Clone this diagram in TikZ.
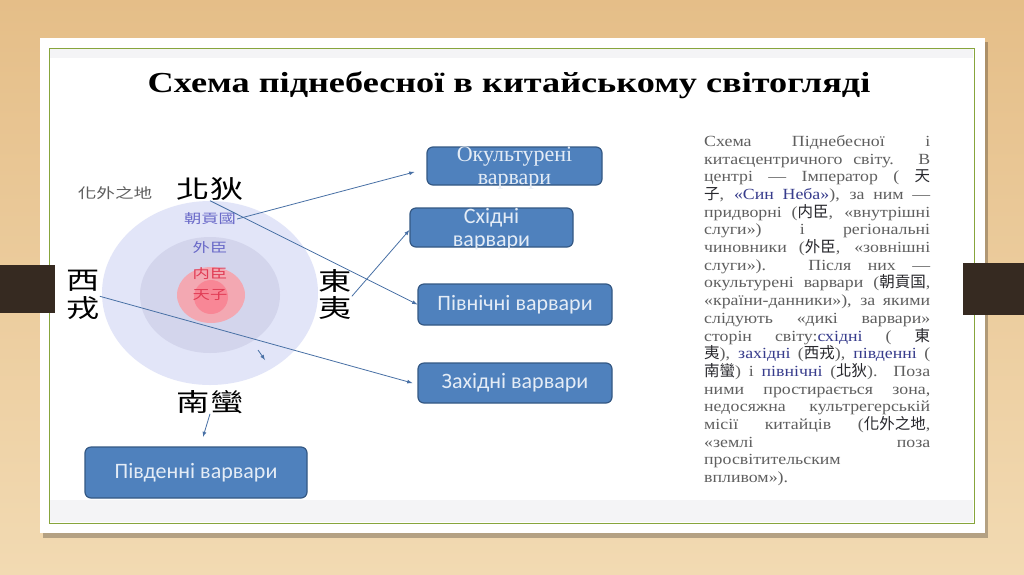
\documentclass[tikz,border=0pt]{standalone}
\usepackage{fontspec}
\setmainfont{Liberation Serif}
\newfontfamily\titlefont{Liberation Serif}[FakeStretch=1.25]
\newfontfamily\notefont{Liberation Serif}[FakeStretch=1.15]
\newfontfamily\cjk{Noto Sans CJK TC}
\newfontfamily\cjkwide{Noto Sans CJK TC}[FakeStretch=1.33]
\newfontfamily\boxfont{Carlito}
\usetikzlibrary{shapes.misc, shadows, arrows, shapes, positioning}
\definecolor{wood}{RGB}{229,190,136}
\definecolor{woodlight}{RGB}{242,218,178}
\definecolor{tab}{RGB}{54,42,33}
\definecolor{frame}{RGB}{135,165,60}
\definecolor{boxblue}{RGB}{79,129,189}
\definecolor{boxedge}{RGB}{52,88,132}
\definecolor{boxtext}{RGB}{228,236,246}
\definecolor{arrowblue}{RGB}{72,112,165}
\definecolor{ringout}{RGB}{226,229,248}
\definecolor{ringmid}{RGB}{211,213,236}
\definecolor{ringin}{RGB}{243,168,178}
\definecolor{ringcore}{RGB}{248,135,150}
\definecolor{tribute}{RGB}{105,105,200}
\definecolor{court}{RGB}{225,60,85}
\definecolor{greytext}{RGB}{95,95,95}
\definecolor{darktext}{RGB}{40,40,45}
\definecolor{bluetext}{RGB}{55,60,140}
\definecolor{band}{RGB}{244,244,246}
\newcommand{\zh}[1]{{\cjk\color{darktext}#1}}

\begin{document}
\begin{tikzpicture}[x=1pt,y=-1pt,
	barbox/.style={draw=boxedge, line width=1.2pt, fill=boxblue, rounded corners=6pt, inner sep=0pt, text=boxtext, align=center, font=\boxfont\fontsize{22}{23}\selectfont},
	bartext/.style={inner sep=0pt, text=boxtext, align=center, font=\boxfont\fontsize{22}{23}\selectfont},
	link/.style={arrowblue, line width=0.8pt, -latex},
	hanzi/.style={font=\cjkwide\fontsize{25}{25}\selectfont, inner sep=0pt},
	ring/.style={font=\cjkwide\fontsize{13}{13}\selectfont, inner sep=1pt}]
	\useasboundingbox (0,0) rectangle (1024,574);
	\shade[top color=wood, bottom color=woodlight] (0,0) rectangle (1024,574);
	\fill[black, opacity=0.25] (43,42) rectangle (988,538);
	\fill[white] (40,38) rectangle (985,533);
	\fill[band] (50,500) rectangle (973,522);
	\fill[band] (50,49) rectangle (973,58);
	\draw[frame, line width=1pt] (49,48) rectangle (974,523);
	\fill[tab] (0,265) rectangle (55,313);
	\fill[tab] (963,263) rectangle (1024,315);
	\node[font=\titlefont\bfseries\fontsize{29}{30}\selectfont] (title) at (509,85) {Схема піднебесної в китайському світогляді};
	\fill[ringout] (210,293) ellipse [x radius=108, y radius=92];
	\fill[ringmid] (210,295) ellipse [x radius=70, y radius=58];
	\fill[ringin] (211,295) ellipse [x radius=34, y radius=28];
	\fill[ringcore] (211,297) circle [radius=17];
	\node[font=\cjkwide\fontsize{14}{14}\selectfont, text=greytext] (huawai) at (115,193) {化外之地};
	\node[hanzi] (beidi) at (210,189) {北狄};
	\node[ring, text=tribute] (chaogong) at (210,219) {朝貢國};
	\node[ring, text=tribute] (waichen) at (210,248) {外臣};
	\node[ring, text=court] (neichen) at (210,274) {内臣};
	\node[ring, text=court] (tianzi) at (210,295) {天子};
	\node[hanzi] (xi) at (83,281) {西};
	\node[hanzi] (rong) at (83,308) {戎};
	\node[hanzi] (dong) at (335,281) {東};
	\node[hanzi] (yi) at (335,308) {夷};
	\node[hanzi] (nanman) at (210,402) {南蠻};
	\node[barbox, minimum width=175pt, minimum height=38pt] (okult) at (514.5,166) {};
	\node[bartext, font=\fontsize{22}{23}\selectfont] (okulttext) at (514.5,168.5) {Окультурені\\варвари};
	\node[barbox, minimum width=163pt, minimum height=39pt] (east) at (491.5,227.5) {};
	\node[bartext] (easttext) at (491.5,229) {Східні\\варвари};
	\node[barbox, minimum width=194pt, minimum height=41pt] (north) at (515,304.5) {Північні варвари};
	\node[barbox, minimum width=194pt, minimum height=40pt] (west) at (515,383) {Західні варвари};
	\node[barbox, minimum width=222pt, minimum height=51pt] (south) at (196,472.5) {Південні варвари};
	\coordinate (southtip) at (203,437);
	\coordinate (smalltail) at (258,350);
	\coordinate (smalltip) at (265,360);
	\draw[link] (chaogong.east) -- ([shift={(-12,6)}]okult.west);
	\draw[link] (beidi.south) -- (north.west);
	\draw[link] (yi.north east) -- ([shift={(0,2.5)}]east.west);
	\draw[link] (rong.north east) -- ([shift={(-5,0)}]west.west);
	\draw[link] (nanman.south) -- (southtip);
	\draw[link] (smalltail) -- (smalltip);
	\node[anchor=north west, inner sep=0pt, text width=226pt, align=justify, text=greytext, font=\notefont\fontsize{15.5}{17.7}\selectfont] (note) at (704,135) {\hbadness=10000\tolerance=10000\lineskiplimit=-20pt
		Схема Піднебесної і\linebreak
		китаєцентричного світу. В\linebreak
		центрі — Імператор ( \zh{天}\linebreak
		\zh{子}, {\color{bluetext}«Син Неба»}), за ним —\linebreak
		придворні (\zh{内臣}, «внутрішні\linebreak
		слуги») і регіональні\linebreak
		чиновники (\zh{外臣}, «зовнішні\linebreak
		слуги»). Після них —\linebreak
		окультурені варвари (\zh{朝貢国},\linebreak
		«країни-данники»), за якими\linebreak
		слідують «дикі варвари»\linebreak
		сторін світу:{\color{bluetext}східні} ( \zh{東}\linebreak
		\zh{夷}), {\color{bluetext}західні} (\zh{西戎}), {\color{bluetext}південні} (\linebreak
		\zh{南蠻}) і {\color{bluetext}північні} (\zh{北狄}). Поза\linebreak
		ними простирається зона,\linebreak
		недосяжна культрегерській\linebreak
		місії китайців (\zh{化外之地},\linebreak
		«землі поза\linebreak
		просвітительским\newline
		впливом»).};
\end{tikzpicture}
\end{document}
